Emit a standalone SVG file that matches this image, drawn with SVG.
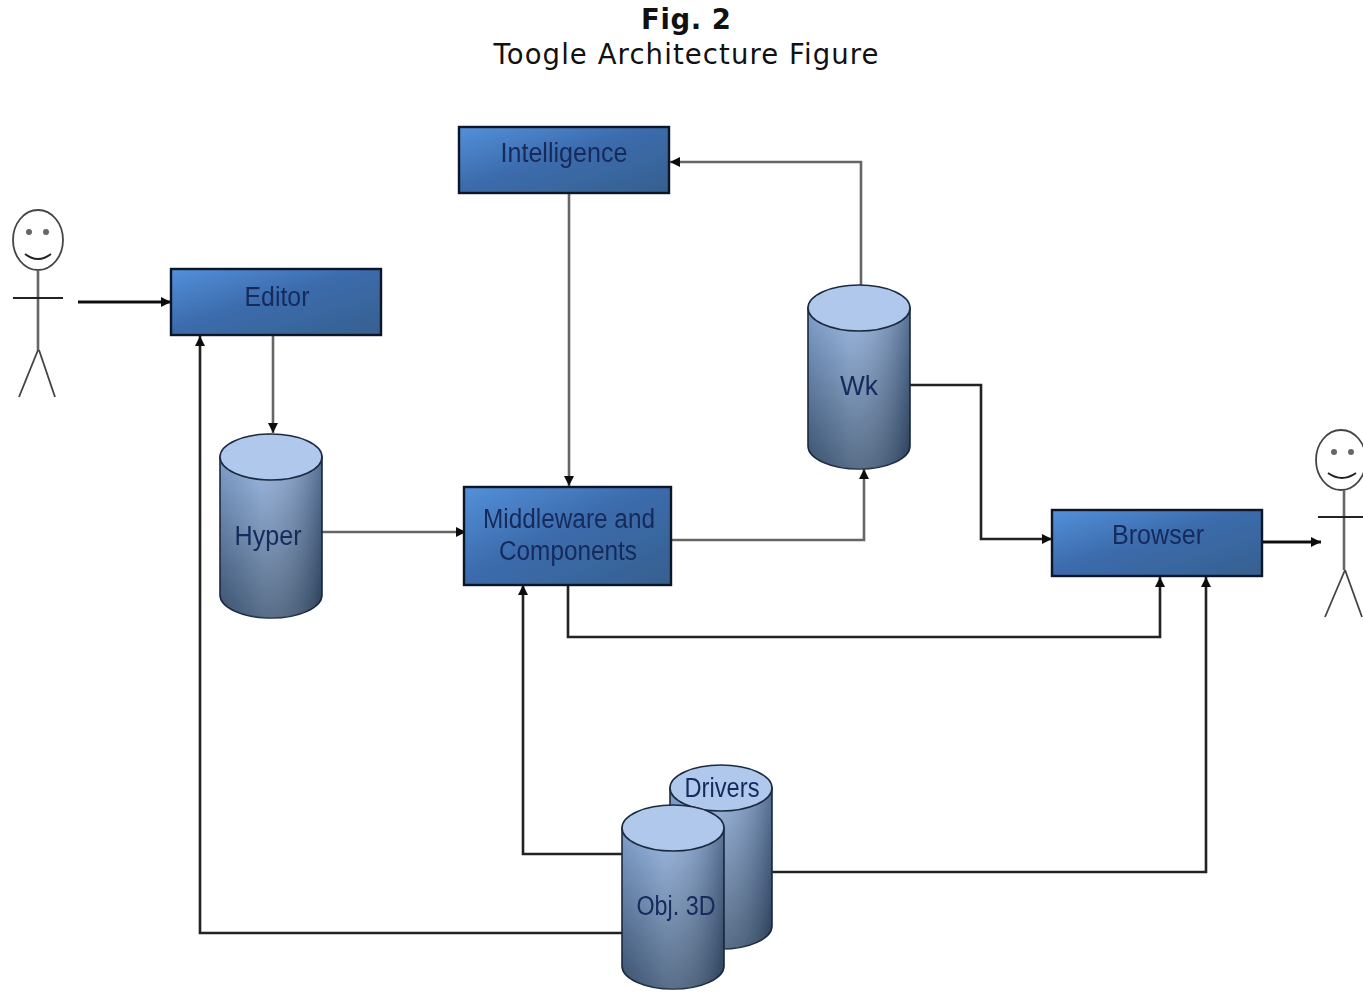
<svg xmlns="http://www.w3.org/2000/svg" width="1363" height="992" viewBox="0 0 1363 992">
<style>
.title{font-family:"DejaVu Sans",Verdana,sans-serif;font-size:27.5px;fill:#111;text-anchor:middle}
.lbl{font-family:"Liberation Sans",Arial,sans-serif;font-size:27px;fill:#142a5c;text-anchor:middle}
.box{fill:url(#boxG);stroke:#0d1528;stroke-width:2.4}
.body{fill:url(#cylG);stroke:#1c2a40;stroke-width:1.6}
.shade{fill:url(#cylV)}
.top{fill:#afc8ec;stroke:#1c2a40;stroke-width:1.6}
.c{fill:none;stroke:#222;stroke-width:2.6}
.d{fill:none;stroke:#111;stroke-width:2.8}
.g{fill:none;stroke:#666;stroke-width:2.6}
.s{fill:none;stroke:#444;stroke-width:1.8}
.s2{fill:none;stroke:#222;stroke-width:1.9}
.eye{fill:#666}
</style>
<defs>
<linearGradient id="boxG" x1="0" y1="0" x2="1" y2="1"><stop offset="0" stop-color="#5490da"/><stop offset=".45" stop-color="#3c6cad"/><stop offset="1" stop-color="#36608f"/></linearGradient>
<linearGradient id="cylG" x1="0" y1="0" x2="0" y2="1"><stop offset="0" stop-color="#8fb0de"/><stop offset="1" stop-color="#3f5876"/></linearGradient>
<linearGradient id="cylV" x1="0" y1="0" x2="1" y2="0"><stop offset="0" stop-color="#0c1a30" stop-opacity=".12"/><stop offset=".4" stop-color="#fff" stop-opacity=".12"/><stop offset="1" stop-color="#0c1a30" stop-opacity=".42"/></linearGradient>
<filter id="soft" x="0" y="0" width="100%" height="100%" filterUnits="userSpaceOnUse"><feGaussianBlur stdDeviation=".6"/></filter>
<marker id="a" markerWidth="12" markerHeight="12" refX="10" refY="5" orient="auto" markerUnits="userSpaceOnUse"><path d="M0 0L10 5L0 10Z" fill="#111"/></marker>
<g id="cyl"><path class="body" d="M0 23V161A51 23 0 0 0 102 161V23Z"/><path class="shade" d="M0 23V161A51 23 0 0 0 102 161V23Z"/><ellipse class="top" cx="51" cy="23" rx="51" ry="23"/></g>
</defs>
<text class="title" x="686" y="29" font-weight="bold" textLength="90" lengthAdjust="spacing">Fig. 2</text>
<text class="title" x="686" y="64" textLength="385" lengthAdjust="spacing">Toogle Architecture Figure</text>
<g filter="url(#soft)">
<g id="connectors">
<path class="d" d="M78 302H171" marker-end="url(#a)"/>
<path class="g" d="M273 336V433" marker-end="url(#a)"/>
<path class="g" d="M322 532H466" marker-end="url(#a)"/>
<path class="g" d="M569 193V486" marker-end="url(#a)"/>
<path class="g" d="M861 286V162H670" marker-end="url(#a)"/>
<path class="g" d="M671 540H864V469" marker-end="url(#a)"/>
<path class="c" d="M909 385H981V539H1052" marker-end="url(#a)"/>
<path class="c" d="M568 585V637H1160V577" marker-end="url(#a)"/>
<path class="c" d="M622 854H523V585" marker-end="url(#a)"/>
<path class="c" d="M772 872H1206V577" marker-end="url(#a)"/>
<path class="c" d="M622 933H200V336" marker-end="url(#a)"/>
<path class="d" d="M1262 542H1321" marker-end="url(#a)"/>
</g>
<g id="person-left">
<ellipse class="s" cx="38" cy="240" rx="25" ry="30"/>
<circle class="eye" cx="29" cy="232" r="3"/><circle class="eye" cx="46" cy="232" r="3"/>
<path class="s2" d="M25 254Q38 264 51 254"/>
<path class="g" d="M38 270V350"/><path class="s2" d="M13 298H63"/>
<path class="s" d="M38 350L19 397M39 350L55 397"/>
</g>
<g id="person-right">
<ellipse class="s" cx="1341" cy="460" rx="25" ry="30"/>
<circle class="eye" cx="1334" cy="452" r="3"/><circle class="eye" cx="1351" cy="452" r="3"/>
<path class="s2" d="M1328 473Q1342 483 1356 473"/>
<path class="g" d="M1344 490V570"/><path class="s2" d="M1318 517H1363"/>
<path class="s" d="M1345 570L1325 617M1345 570L1362 617"/>
</g>
<g id="intelligence"><rect class="box" x="459" y="127" width="210" height="66"/><text class="lbl" x="564" y="162" textLength="127" lengthAdjust="spacingAndGlyphs">Intelligence</text></g>
<g id="editor"><rect class="box" x="171" y="269" width="210" height="66"/><text class="lbl" x="277" y="306" textLength="65" lengthAdjust="spacingAndGlyphs">Editor</text></g>
<g id="middleware"><rect class="box" x="464" y="487" width="207" height="98"/><text class="lbl" x="569" y="528" textLength="172" lengthAdjust="spacingAndGlyphs">Middleware and</text><text class="lbl" x="568" y="560" textLength="138" lengthAdjust="spacingAndGlyphs">Components</text></g>
<g id="browser"><rect class="box" x="1052" y="510" width="210" height="66"/><text class="lbl" x="1158" y="544" textLength="92" lengthAdjust="spacingAndGlyphs">Browser</text></g>
<g id="hyper"><use href="#cyl" x="220" y="434"/><text class="lbl" x="268" y="545" textLength="67" lengthAdjust="spacingAndGlyphs">Hyper</text></g>
<g id="wk"><use href="#cyl" x="808" y="285"/><text class="lbl" x="859" y="395" textLength="38" lengthAdjust="spacingAndGlyphs">Wk</text></g>
<g id="drivers"><use href="#cyl" x="670" y="765"/><text class="lbl" x="722" y="797" textLength="75" lengthAdjust="spacingAndGlyphs">Drivers</text></g>
<g id="obj3d"><use href="#cyl" x="622" y="805"/><text class="lbl" x="676" y="915" textLength="79" lengthAdjust="spacingAndGlyphs">Obj. 3D</text></g>
</g>
</svg>
